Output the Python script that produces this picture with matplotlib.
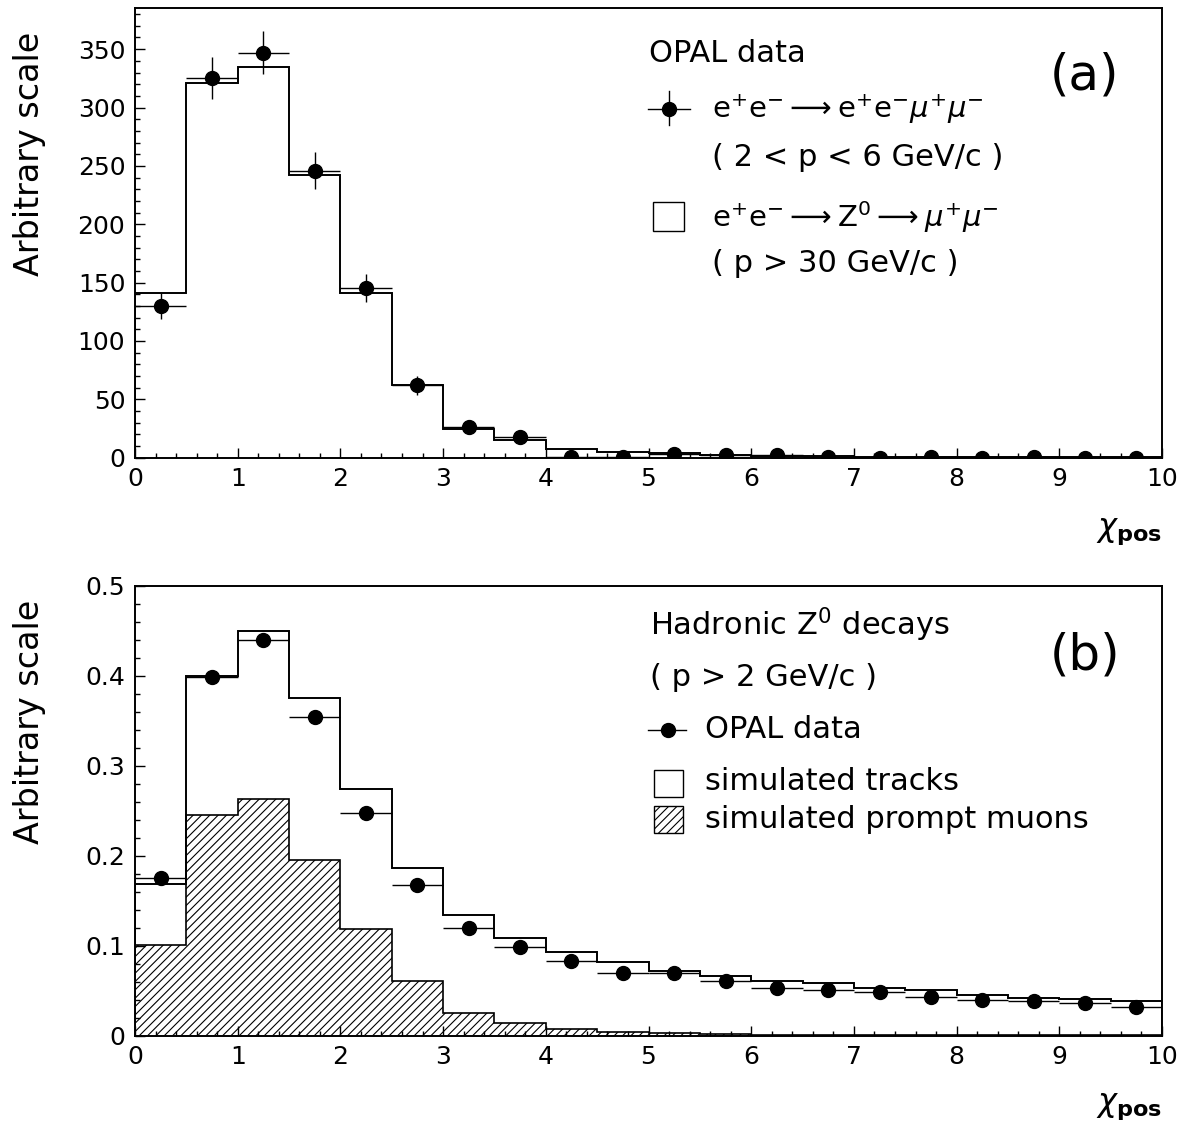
import matplotlib
matplotlib.use("Agg")
import matplotlib.pyplot as plt
from matplotlib.lines import Line2D
from matplotlib.patches import Rectangle
from matplotlib.ticker import MultipleLocator
import numpy as np

plt.rcParams["font.family"] = ["DejaVu Sans"]
plt.rcParams["mathtext.fontset"] = "dejavusans"
plt.rcParams["hatch.linewidth"] = 0.8

# bin edges of chi_pos (20 bins of 0.5)
edges = np.linspace(0, 10, 21)
centers = edges[:-1] + 0.25

# panel (a): e+e- -> e+e- mu+mu- data and Z0 -> mu+mu- reference
a_data = [130, 325, 347, 246, 145, 62, 26, 17.5, 1, 1, 3, 2, 2, 1, 0, 1, 0, 1, 0, 0]
a_err = [11.4, 18, 18.6, 15.7, 12, 7.9, 5.1, 4.2, 1, 1, 1.7, 1.4, 1.4, 1, 0, 1, 0, 1, 0, 0]
a_mc = [141, 321, 335, 242, 141.5, 62, 24.3, 15, 7.4, 4.9, 3.7, 2.3, 1.4, 1.2, 0.9,
        0.5, 0.5, 0.5, 0.5, 0.4]

# panel (b): hadronic Z0 decays
b_data = [0.175, 0.399, 0.440, 0.354, 0.248, 0.167, 0.120, 0.098, 0.083, 0.070,
          0.069, 0.061, 0.053, 0.051, 0.048, 0.043, 0.040, 0.038, 0.036, 0.032]
b_tracks = [0.168, 0.400, 0.450, 0.375, 0.274, 0.186, 0.134, 0.108, 0.093, 0.0815,
            0.0715, 0.066, 0.061, 0.058, 0.0525, 0.051, 0.045, 0.042, 0.041, 0.038]
b_prompt = [0.101, 0.245, 0.263, 0.195, 0.119, 0.061, 0.025, 0.0136, 0.0072, 0.0043,
            0.0028, 0.0017, 0.001, 0.0006, 0.0004, 0.0003, 0.0002, 0.0002, 0.0001, 0.0001]

W, H = 1185, 1129


def fx(x):
    return x / W


def fy(y):
    return 1 - y / H


def style_axes(ax, ymax, major_y, minor_y):
    ax.set_xlim(0, 10)
    ax.set_ylim(0, ymax)
    ax.xaxis.set_major_locator(MultipleLocator(1))
    ax.xaxis.set_minor_locator(MultipleLocator(0.2))
    ax.yaxis.set_major_locator(MultipleLocator(major_y))
    ax.yaxis.set_minor_locator(MultipleLocator(minor_y))
    ax.tick_params(which="both", direction="in", top=False, right=False,
                   labelsize=18, width=1.0)
    ax.tick_params(which="major", length=7.5, pad=7)
    ax.tick_params(which="minor", length=3.8)
    for sp in ax.spines.values():
        sp.set_linewidth(1.4)


fig = plt.figure(figsize=(W / 100, H / 100), dpi=100)

# ---- panel (a)
ax_a = fig.add_axes([fx(135), fy(457.7), fx(1162) - fx(135), (457.7 - 8.3) / H])
ax_a.stairs(a_mc, edges, color="black", lw=1.4)
ax_a.errorbar(centers, a_data, xerr=0.25, yerr=a_err, fmt="o", color="black",
              ms=10, elinewidth=1.0, capsize=0)
style_axes(ax_a, 385, 50, 10)
ax_a.yaxis.set_major_formatter(matplotlib.ticker.FormatStrFormatter("%d"))

# ---- panel (b)
ax_b = fig.add_axes([fx(135), fy(1035.5), fx(1162) - fx(135), (1035.5 - 586) / H])
ax_b.stairs(b_prompt, edges, fill=True, facecolor="white", edgecolor="black",
            hatch="////", lw=1.2, baseline=0)
ax_b.stairs(b_tracks, edges, color="black", lw=1.4)
ax_b.errorbar(centers, b_data, xerr=0.25, fmt="o", color="black",
              ms=10, elinewidth=1.0, capsize=0)
style_axes(ax_b, 0.5, 0.1, 0.02)
ax_b.yaxis.set_major_formatter(matplotlib.ticker.FuncFormatter(
    lambda v, p: "0" if abs(v) < 1e-9 else f"{v:.1f}"))

# axis titles
for yc in (154, 722):
    fig.text(fx(30), fy(yc), "Arbitrary scale", rotation=90, fontsize=24,
             ha="center", va="center")
for yb in (536, 1111):
    fig.text(fx(1162), fy(yb), r"$\chi_{\mathbf{pos}}$", fontsize=23,
             ha="right", va="baseline")

# panel labels
fig.text(fx(1084), fy(76), "(a)", fontsize=36, ha="center", va="center")
fig.text(fx(1085), fy(655), "(b)", fontsize=36, ha="center", va="center")

fs = 22
fm = 21
# ---- legend (a)
fig.text(fx(649), fy(53), "OPAL data", fontsize=fs, ha="left", va="center")
fig.add_artist(Line2D([fx(648), fx(690)], [fy(109), fy(109)], color="black", lw=1.0))
fig.add_artist(Line2D([fx(669), fx(669)], [fy(91), fy(125)], color="black", lw=1.0))
fig.add_artist(Line2D([fx(669)], [fy(109)], marker="o", ms=10, color="black"))
fig.text(fx(712), fy(109),
         r"e$^{+}$e$^{-}$$\longrightarrow$e$^{+}$e$^{-}$$\mu^{+}\mu^{-}$",
         fontsize=fm, ha="left", va="center")
fig.text(fx(712), fy(157), "( 2 < p < 6 GeV/c )", fontsize=fs, ha="left", va="center")
fig.add_artist(Rectangle((fx(653), fy(231)), fx(684) - fx(653), fy(202) - fy(231),
                         transform=fig.transFigure, facecolor="white",
                         edgecolor="black", lw=1.0))
fig.text(fx(712), fy(217),
         r"e$^{+}$e$^{-}$$\longrightarrow$Z$^{0}$$\longrightarrow$$\mu^{+}\mu^{-}$",
         fontsize=fm, ha="left", va="center")
fig.text(fx(712), fy(263), "( p > 30 GeV/c )", fontsize=fs, ha="left", va="center")

# ---- legend (b)
fig.text(fx(650), fy(625), r"Hadronic Z$^{0}$ decays", fontsize=fs, ha="left", va="center")
fig.text(fx(650), fy(677), "( p > 2 GeV/c )", fontsize=fs, ha="left", va="center")
fig.add_artist(Line2D([fx(648), fx(686)], [fy(730), fy(730)], color="black", lw=1.0))
fig.add_artist(Line2D([fx(668)], [fy(730)], marker="o", ms=10, color="black"))
fig.text(fx(705), fy(730), "OPAL data", fontsize=fs, ha="left", va="center")
fig.add_artist(Rectangle((fx(654), fy(797)), fx(683) - fx(654), fy(770) - fy(797),
                         transform=fig.transFigure, facecolor="white",
                         edgecolor="black", lw=1.0))
fig.text(fx(705), fy(782), "simulated tracks", fontsize=fs, ha="left", va="center")
fig.add_artist(Rectangle((fx(654), fy(833)), fx(683) - fx(654), fy(806) - fy(833),
                         transform=fig.transFigure, facecolor="white", hatch="////",
                         edgecolor="black", lw=1.0))
fig.text(fx(705), fy(819), "simulated prompt muons", fontsize=fs, ha="left", va="center")

fig.savefig("out.png", dpi=100)
